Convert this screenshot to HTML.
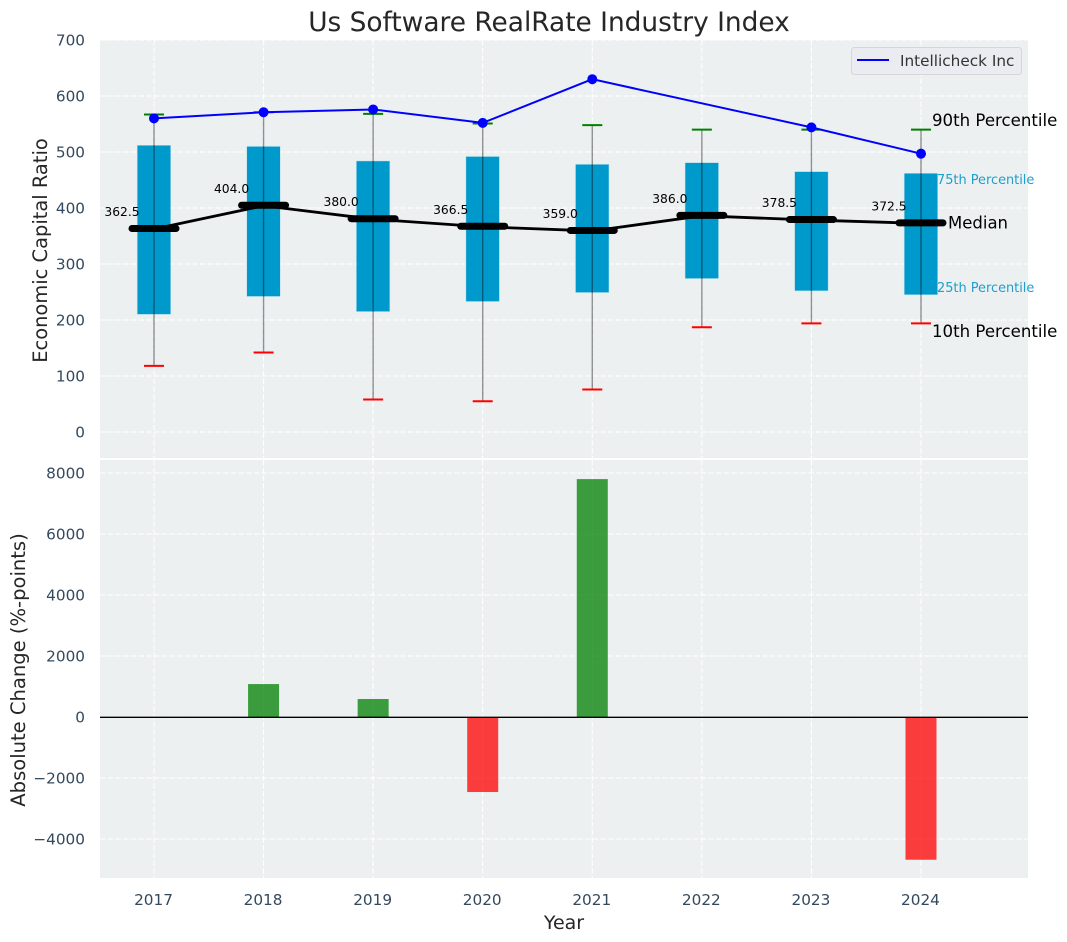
<!DOCTYPE html>
<html lang="en">
<head>
<meta charset="utf-8">
<title>Us Software RealRate Industry Index</title>
<style>
html,body{margin:0;padding:0;background:#fff;width:1067px;height:942px;overflow:hidden}
svg{display:block}
text{font-family:"DejaVu Sans","Liberation Sans",sans-serif}
</style>
</head>
<body>
<svg id="chart" width="1067" height="942" viewBox="0 0 1067 942" xmlns="http://www.w3.org/2000/svg">
  <rect x="100" y="40" width="928" height="418" fill="#ecf0f1"/>
  <rect x="100" y="460" width="928" height="418" fill="#ecf0f1"/>
  <g id="grid"></g>
  <g id="boxes"></g>
  <g id="bars"></g>
  <g id="lines"></g>
  <g id="ticks"></g>
  <text x="549" y="31" text-anchor="middle" font-size="26.4" fill="#262626">Us Software RealRate Industry Index</text>
  <text transform="translate(47 250.5) rotate(-90)" text-anchor="middle" font-size="19.44" fill="#262626">Economic Capital Ratio</text>
  <text transform="translate(25 670) rotate(-90)" text-anchor="middle" font-size="19.55" fill="#262626">Absolute Change (%-points)</text>
  <text x="564" y="929" text-anchor="middle" font-size="19" fill="#262626">Year</text>
  <text x="932" y="126" font-size="16.6" fill="#000">90th Percentile</text>
  <text x="937" y="184" font-size="12.9" fill="#1f9fc9">75th Percentile</text>
  <text x="948" y="228.5" font-size="16.5" fill="#000">Median</text>
  <text x="937" y="292" font-size="12.9" fill="#1f9fc9">25th Percentile</text>
  <text x="932" y="337" font-size="16.6" fill="#000">10th Percentile</text>
  <g>
    <rect x="851.5" y="47.5" width="170" height="27" rx="3" fill="#eaecf1" stroke="#d4d6d9"/>
    <line x1="857" y1="60" x2="889" y2="60" stroke="#0000ff" stroke-width="2"/>
    <text x="900" y="66" font-size="15.28" fill="#333">Intellicheck Inc</text>
  </g>
</svg>
<script>
const years = [2017, 2018, 2019, 2020, 2021, 2022, 2023, 2024];
const p90 = [567, 571, 568, 551, 548, 540, 540, 540];
const p75 = [512, 510, 484, 492, 478, 481, 465, 462];
const medians = [362.5, 404.0, 380.0, 366.5, 359.0, 386.0, 378.5, 372.5];
const p25 = [210, 242, 215, 233, 249, 274, 252, 245];
const p10 = [118, 142, 58, 55, 76, 187, 194, 194];
const company = [560, 571, 576, 552, 630, null, 544, 497];
const changes = [null, 1080, 590, -2460, 7800, null, null, -4680];
const topTicks = [0, 100, 200, 300, 400, 500, 600, 700];
const bottomTicks = [-4000, -2000, 0, 2000, 4000, 6000, 8000];

const NS = 'http://www.w3.org/2000/svg';
const xScale = function (year) { return 154 + (year - 2017) * 109.57; };
const yTop = function (v) { return 432 - v * 0.56; };
const yBottom = function (v) { return 717 - v * 0.0305; };

function mk(parentId, tag, props, txt) {
  const el = document.createElementNS(NS, tag);
  Object.keys(props).forEach(function (k) { el.setAttribute(k, props[k]); });
  if (txt !== undefined) el.textContent = txt;
  document.getElementById(parentId).appendChild(el);
  return el;
}
function gridLine(x1, y1, x2, y2) {
  return mk('grid', 'line', { x1: x1, y1: y1, x2: x2, y2: y2, stroke: '#fff', 'stroke-width': 1.1, 'stroke-dasharray': '5.5 2.2' });
}
function fmt(v) { return v < 0 ? '\u2212' + Math.abs(v) : String(v); }

years.forEach(function (yr) {
  const x = xScale(yr);
  let el = gridLine(x, 40, x, 458);
  
  
  el = gridLine(x, 460, x, 878);
  
  
  const t = mk('ticks', 'text', { x: x - 0.5, y: 905, 'text-anchor': 'middle', 'font-size': 15.28, fill: '#34495e' }, String(yr));
  
  
});

topTicks.forEach(function (v) {
  const y = yTop(v);
  const g = gridLine(100, y, 1028, y);
  
  
  const t = mk('ticks', 'text', { x: 85, y: y + 5.5, 'text-anchor': 'end', 'font-size': 15.28, fill: '#34495e' }, fmt(v));
  
  
});

bottomTicks.forEach(function (v) {
  const y = yBottom(v);
  const g = gridLine(100, y, 1028, y);
  
  
  const t = mk('ticks', 'text', { x: 85, y: y + 5.5, 'text-anchor': 'end', 'font-size': 15.28, fill: '#34495e' }, fmt(v));
  
  
});

years.forEach(function (yr, i) {
  const x = xScale(yr) - 0.3;
  const box = mk('boxes', 'rect', { x: x - 16.5, y: yTop(p75[i]), width: 33.5, height: yTop(p25[i]) - yTop(p75[i]), fill: '#0099cc', stroke: '#bfe3ee', 'stroke-width': 0.5 });
  
  
});

const medianPath = mk('lines', 'polyline', {
  points: years.map(function (yr, i) { return xScale(yr) + ',' + yTop(medians[i]); }).join(' '),
  fill: 'none', stroke: '#000', 'stroke-width': 2.8
});



years.forEach(function (yr, i) {
  const x = xScale(yr);
  const m = mk('lines', 'line', { x1: x - 22, y1: yTop(medians[i]) - 0.5, x2: x + 22, y2: yTop(medians[i]) - 0.5, stroke: '#000', 'stroke-width': 7, 'stroke-linecap': 'round' });
  
  
  const w = mk('lines', 'line', { x1: x, y1: yTop(p90[i]), x2: x, y2: yTop(p10[i]), stroke: '#000', 'stroke-opacity': 0.42, 'stroke-width': 1.4 });
  
  
  const hi = mk('lines', 'line', { x1: x - 10, y1: yTop(p90[i]), x2: x + 10, y2: yTop(p90[i]), stroke: '#008000', 'stroke-width': 2 });
  
  
  const lo = mk('lines', 'line', { x1: x - 10, y1: yTop(p10[i]), x2: x + 10, y2: yTop(p10[i]), stroke: '#ff0000', 'stroke-width': 2 });
  
  
  const lab = mk('lines', 'text', { x: x - 32, y: yTop(medians[i]) - 13, 'text-anchor': 'middle', 'font-size': 12.3, fill: '#000' }, medians[i].toFixed(1));
  
  
});

const companyPoints = [];
years.forEach(function (yr, i) {
  if (company[i] !== null) companyPoints.push(xScale(yr) + ',' + yTop(company[i]));
});
const companyLine = mk('lines', 'polyline', { points: companyPoints.join(' '), fill: 'none', stroke: '#0000ff', 'stroke-width': 2 });



years.forEach(function (yr, i) {
  if (company[i] === null) return;
  const c = mk('lines', 'circle', { cx: xScale(yr), cy: yTop(company[i]), r: 5, fill: '#0000ff' });
  
  
});

years.forEach(function (yr, i) {
  if (changes[i] === null) return;
  const v = changes[i];
  const top = Math.min(yBottom(v), yBottom(0));
  const h = Math.abs(yBottom(v) - yBottom(0));
  const b = mk('bars', 'rect', { x: xScale(yr) - 15.5, y: top, width: 31, height: h, fill: v >= 0 ? '#008000' : '#ff0000', 'fill-opacity': 0.75 });
  
  
});

const zero = mk('bars', 'line', { x1: 100, y1: yBottom(0) + 0.3, x2: 1028, y2: yBottom(0) + 0.3, stroke: '#000', 'stroke-width': 1.4 });


</script>
</body>
</html>
